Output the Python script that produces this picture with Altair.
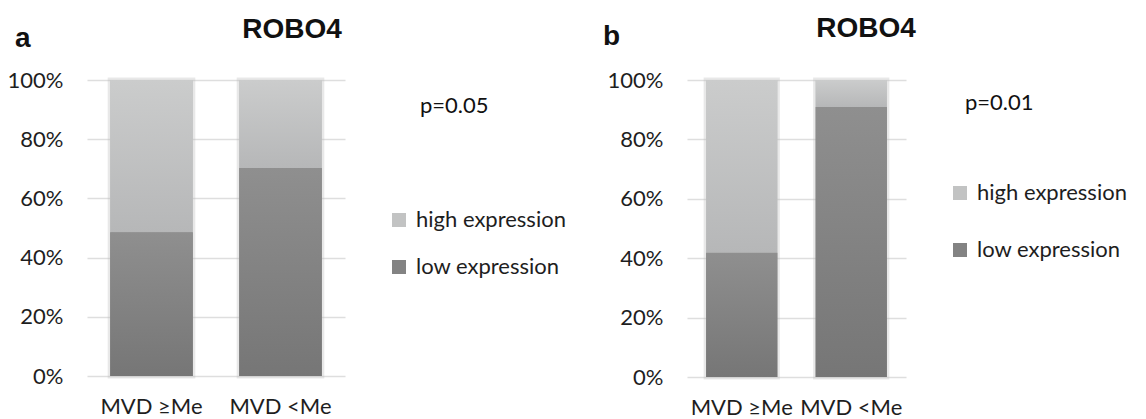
import altair as alt
import pandas as pd

# ---- data ----
groups = ["MVD ≥Me", "MVD <Me"]
series = ["high expression", "low expression"]
low_a = [0.486, 0.703]   # share of "low expression" in panel a
low_b = [0.418, 0.909]   # share of "low expression" in panel b
y_ticks = [0, 0.2, 0.4, 0.6, 0.8, 1.0]
gene = "ROBO4"
panel_letters = ["a", "b"]
p_values = ["p=0.05", "p=0.01"]

FONT = "Lato"
TITLE_FONT = "Liberation Sans"
TEXT_COLOR = "#1e1e1e"
LIGHT = "#c2c3c3"
DARK = "#838383"

light_grad = {
    "gradient": "linear", "x1": 0, "y1": 0, "x2": 0, "y2": 1,
    "stops": [{"offset": 0, "color": "#cbcccc"}, {"offset": 1, "color": "#b6b7b8"}],
}
dark_grad = {
    "gradient": "linear", "x1": 0, "y1": 0, "x2": 0, "y2": 1,
    "stops": [{"offset": 0, "color": "#8f8f8f"}, {"offset": 1, "color": "#767676"}],
}


def text_layer(s, x, y, size, bold, align="left"):
    return alt.Chart(pd.DataFrame({"t": [s]})).mark_text(
        align=align, baseline="alphabetic",
        font=TITLE_FONT if bold else FONT, fontSize=size,
        fontWeight="bold" if bold else "normal", color="#111111",
    ).encode(x=alt.value(x), y=alt.value(y), text="t:N")


def panel(low, width, height, pad_in, pad_out, letter, ptxt, texts, leg):
    long = pd.DataFrame({
        "group": groups * 2,
        "series": [series[0]] * 2 + [series[1]] * 2,
        "start": list(low) + [0.0, 0.0],
        "end": [1.0, 1.0] + list(low),
    })
    wide = pd.DataFrame({"group": groups, "low": low, "zero": [0.0, 0.0], "top": [1.0, 1.0]})

    xscale = alt.Scale(paddingInner=pad_in, paddingOuter=pad_out)
    xaxis = alt.Axis(labelAngle=0, ticks=False, domain=False, labelPadding=20,
                     labelFont=FONT, labelFontSize=22, labelColor=TEXT_COLOR, grid=False)
    yscale = alt.Scale(domain=[0, 1], nice=False)
    yaxis = alt.Axis(values=y_ticks, format=".0%", ticks=False, domain=False, labelPadding=24,
                     labelFont=FONT, labelFontSize=22, labelColor=TEXT_COLOR,
                     gridColor="#dedede", gridWidth=1.3)

    xenc = alt.X("group:N", sort=groups, title=None, scale=xscale, axis=xaxis)

    # soft shadow around each bar
    shadow = alt.Chart(wide).mark_bar(fill=None, stroke="#bdbdbd", strokeWidth=5,
                                      strokeOpacity=0.35).encode(
        x=xenc, y=alt.Y("zero:Q", scale=yscale, axis=yaxis, title=None), y2="top:Q")

    base = alt.Chart(long).mark_bar().encode(
        x=xenc,
        y=alt.Y("start:Q", scale=yscale, axis=yaxis, title=None),
        y2="end:Q",
        color=alt.Color("series:N", scale=alt.Scale(domain=series, range=[LIGHT, DARK]),
                        legend=alt.Legend(title=None, orient="none", legendX=leg[0], legendY=leg[1],
                                          symbolType="square", symbolSize=196, symbolStrokeWidth=0,
                                          labelFont=FONT, labelFontSize=22, labelColor=TEXT_COLOR,
                                          rowPadding=leg[2], labelOffset=6, padding=0)),
    )
    high_bar = alt.Chart(wide).mark_bar(fill=light_grad).encode(
        x=xenc, y=alt.Y("low:Q", scale=yscale, axis=yaxis, title=None), y2="top:Q")
    low_bar = alt.Chart(wide).mark_bar(fill=dark_grad).encode(
        x=xenc, y=alt.Y("zero:Q", scale=yscale, axis=yaxis, title=None), y2="low:Q")

    t_letter = text_layer(letter, texts[0][0], texts[0][1], 28, True)
    t_title = text_layer(gene, texts[1][0], texts[1][1], 28, True, align="center")
    t_p = text_layer(ptxt, texts[2][0], texts[2][1], 22, False)

    return alt.layer(shadow, base, high_bar, low_bar, t_letter, t_title, t_p).properties(
        width=width, height=height)


pa = panel(low_a, 258, 296, 0.36, 0.18, panel_letters[0], p_values[0],
           [(-72, -33), (205, -42), (333, 33)], (301, 129, 25))
pb = panel(low_b, 219, 297, 0.35, 0.175, panel_letters[1], p_values[1],
           [(-84, -35), (179, -43), (278, 30)], (262, 102, 35))

chart = alt.hconcat(pa, pb, spacing=342, bounds="flush").resolve_scale(
    color="independent"
).properties(
    autosize=alt.AutoSizeParams(type="none"),
    padding={"left": 87, "top": 80, "right": 1146 - 87, "bottom": 419 - 80},
    background="white",
).configure_view(stroke=None)

chart.save("out.html", embed_options={"renderer": "svg", "actions": False})
